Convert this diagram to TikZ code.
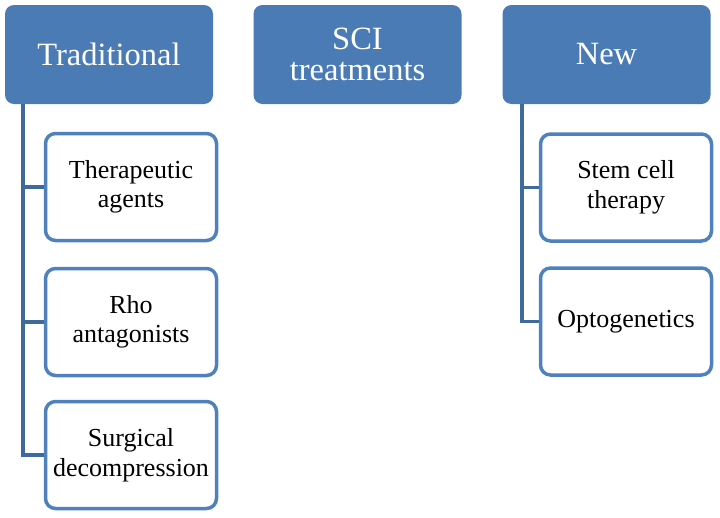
\documentclass[tikz,border=0pt]{standalone}
\usepackage{fontspec}
\setmainfont{Liberation Serif}
\definecolor{hdr}{HTML}{4A7BB5}
\definecolor{cbrd}{HTML}{4F81BD}
\definecolor{conn}{HTML}{3F6A9C}
\begin{document}
\begin{tikzpicture}[x=1pt,y=-1pt,
  head/.style={draw=none,fill=hdr,rounded corners=9pt,minimum width=208pt,minimum height=99pt,
    text=white,font=\fontsize{32.5}{31}\selectfont,align=center,inner sep=0pt},
  child/.style={draw=cbrd,line width=3.5pt,fill=white,rounded corners=10pt,minimum width=171pt,minimum height=107pt,
    font=\fontsize{26}{29.5}\selectfont,align=center,inner sep=0pt},
  link/.style={draw=conn,line width=3.5pt}]
\useasboundingbox (0,0) rectangle (720,517);
\node[head] (trad) at (109,54.5) {Traditional};
\node[head] (sci) at (357.5,54.5) {SCI\\treatments};
\node[head] (new) at (606.5,54.5) {New};
\node[child] (ther) at (131,187) {Therapeutic\\agents};
\node[child] (rho) at (131,322) {Rho\\antagonists};
\node[child] (surg) at (131,455) {Surgical\\decompression};
\node[child] (stem) at (626,187.5) {Stem cell\\therapy};
\node[child] (opto) at (626,321.5) {Optogenetics};
\coordinate (tl) at (23,104);
\coordinate (nl) at (522,104);
\draw[link] (tl) |- (ther.west);
\draw[link] (tl) |- (rho.west);
\draw[link] (tl) |- (surg.west);
\draw[link] (nl) |- (stem.west);
\draw[link] (nl) |- (opto.west);
\end{tikzpicture}
\end{document}
